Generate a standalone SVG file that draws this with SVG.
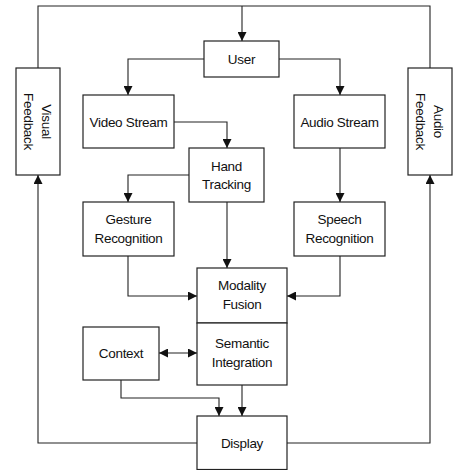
<svg xmlns="http://www.w3.org/2000/svg" width="453" height="470" viewBox="0 0 453 470">
<style>
.box{fill:#fff;stroke:#222;stroke-width:1.2}
.t{font-family:"Liberation Sans",Arial,sans-serif;font-size:13.5px;fill:#111;text-anchor:middle;letter-spacing:-0.3px}
.c{fill:none;stroke:#222;stroke-width:1.1}
</style>
<defs>
<marker id="ah" viewBox="0 0 10 10" refX="10" refY="5" markerWidth="10" markerHeight="9" markerUnits="userSpaceOnUse" orient="auto-start-reverse">
<path d="M0,0 L10,5 L0,10 z" fill="#111"/>
</marker>
</defs>
<rect width="453" height="470" fill="#fff"/>
<g id="connectors">
<path class="c" d="M38,68 V6 H430 V68"/>
<path class="c" d="M242,6 V41" marker-end="url(#ah)"/>
<path class="c" d="M204,59 H128 V95" marker-end="url(#ah)"/>
<path class="c" d="M279,59 H340 V95" marker-end="url(#ah)"/>
<path class="c" d="M174,122 H227 V148" marker-end="url(#ah)"/>
<path class="c" d="M189,175 H128 V202" marker-end="url(#ah)"/>
<path class="c" d="M340,148 V202" marker-end="url(#ah)"/>
<path class="c" d="M227,202 V268" marker-end="url(#ah)"/>
<path class="c" d="M128,256 V296 H197" marker-end="url(#ah)"/>
<path class="c" d="M340,256 V296 H287" marker-end="url(#ah)"/>
<path class="c" d="M159,353 H197" marker-start="url(#ah)" marker-end="url(#ah)"/>
<path class="c" d="M121,380 V398 H219 V416" marker-end="url(#ah)"/>
<path class="c" d="M242,385 V416" marker-end="url(#ah)"/>
<path class="c" d="M197,443 H38 V175" marker-end="url(#ah)"/>
<path class="c" d="M287,443 H430 V175" marker-end="url(#ah)"/>
</g>
<g id="user"><rect class="box" x="204" y="41" width="75" height="36"/><text class="t" x="241.5" y="64">User</text></g>
<g id="visual-feedback"><rect class="box" x="16" y="68" width="44" height="107"/><text class="t" transform="translate(38,121.5) rotate(90)"><tspan x="0" y="-4">Visual</tspan><tspan x="0" y="14">Feedback</tspan></text></g>
<g id="audio-feedback"><rect class="box" x="408" y="68" width="44" height="107"/><text class="t" transform="translate(430,121.5) rotate(90)"><tspan x="0" y="-4">Audio</tspan><tspan x="0" y="14">Feedback</tspan></text></g>
<g id="video-stream"><rect class="box" x="83" y="95" width="91" height="53"/><text class="t" x="128.5" y="126.5">Video Stream</text></g>
<g id="audio-stream"><rect class="box" x="294" y="95" width="91" height="53"/><text class="t" x="339.5" y="126.5">Audio Stream</text></g>
<g id="hand-tracking"><rect class="box" x="189" y="148" width="75" height="54"/><text class="t" x="226.5" y="170.5">Hand</text><text class="t" x="226.5" y="189">Tracking</text></g>
<g id="gesture-recognition"><rect class="box" x="83" y="202" width="91" height="54"/><text class="t" x="128.5" y="224">Gesture</text><text class="t" x="128.5" y="243">Recognition</text></g>
<g id="speech-recognition"><rect class="box" x="294" y="202" width="91" height="54"/><text class="t" x="339.5" y="224">Speech</text><text class="t" x="339.5" y="243">Recognition</text></g>
<g id="modality-fusion"><rect class="box" x="197" y="268" width="90" height="55"/><text class="t" x="242" y="290">Modality</text><text class="t" x="242" y="309">Fusion</text></g>
<g id="semantic-integration"><rect class="box" x="197" y="323" width="90" height="62"/><text class="t" x="242" y="348">Semantic</text><text class="t" x="242" y="367">Integration</text></g>
<g id="context"><rect class="box" x="83" y="327" width="76" height="53"/><text class="t" x="121" y="358">Context</text></g>
<g id="display"><rect class="box" x="197" y="416" width="90" height="53.5"/><text class="t" x="242" y="448">Display</text></g>
</svg>
